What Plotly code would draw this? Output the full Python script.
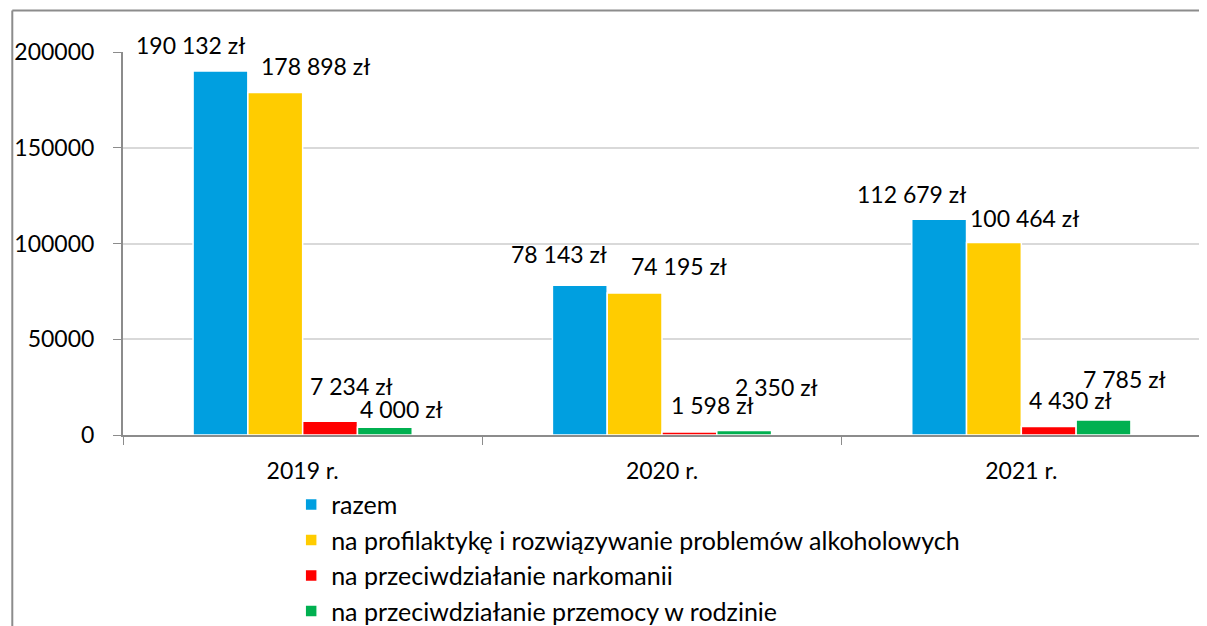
import plotly.graph_objects as go

# data
years = ["2019 r.", "2020 r.", "2021 r."]
razem = [190132, 78143, 112679]
alkohol = [178898, 74195, 100464]
narkomania = [7234, 1598, 4430]
przemoc = [4000, 2350, 7785]

series_names = [
    "razem",
    "na profilaktykę i rozwiązywanie problemów alkoholowych",
    "na przeciwdziałanie narkomanii",
    "na przeciwdziałanie przemocy w rodzinie",
]
series_values = [razem, alkohol, narkomania, przemoc]
colors = ["#009FE0", "#FFCC00", "#FF0000", "#00B050"]

# label nudges (px) per series, per year, like the hand-moved labels in the original
label_dx = [[-112, -103, -110], [13, 17, 3], [49, 50, 49], [99, 114, 103]]
label_dy = [[26, 31, 25], [26, 27, 25], [35, 27, 27], [18, 44, 41]]

FONT = "Lato"


def zl(v):
    return f"{v:,}".replace(",", " ") + " zł"


fig = go.Figure()
for name, vals, col in zip(series_names, series_values, colors):
    fig.add_trace(go.Bar(
        x=years, y=vals, name=name,
        marker=dict(color=col, line=dict(color="white", width=1.5)),
    ))

annotations = []
for i, vals in enumerate(series_values):
    for j, v in enumerate(vals):
        annotations.append(dict(
            x=years[j], y=v, xref="x", yref="y",
            text=zl(v), showarrow=False,
            xshift=label_dx[i][j], yshift=label_dy[i][j],
            font=dict(size=23, color="black", family=FONT),
        ))

# outer frame: only left and top edges are visible in the original
frame_x = -0.1027
frame_y = 1.1084
shapes = [
    dict(type="line", xref="paper", yref="paper", x0=frame_x, x1=frame_x,
         y0=-0.6, y1=frame_y, line=dict(color="#8C8C8C", width=2)),
    dict(type="line", xref="paper", yref="paper", x0=frame_x, x1=1.05,
         y0=frame_y, y1=frame_y, line=dict(color="#8C8C8C", width=2)),
]

# figure is a bit taller than the window: the legend sits right at the bottom as in the original
fig.update_layout(
    width=1199, height=650,
    margin=dict(l=112, r=6, t=44, b=223),
    paper_bgcolor="white", plot_bgcolor="white",
    barmode="group", bargap=0.39, bargroupgap=0,
    font=dict(family=FONT, size=23, color="black"),
    annotations=annotations,
    legend=dict(
        orientation="v", x=0.156, y=-0.122, xanchor="left", yanchor="top",
        font=dict(size=25), itemwidth=30, tracegroupgap=0,
    ),
    shapes=shapes,
)

fig.update_xaxes(
    showline=True, linecolor="#8C8C8C", linewidth=2,
    ticks="outside", tickson="boundaries", ticklen=8, tickcolor="#8C8C8C",
    ticklabelstandoff=14,
)
fig.update_yaxes(
    range=[0, 200000], dtick=50000, tickformat="d",
    showline=True, linecolor="#8C8C8C", linewidth=2,
    ticks="outside", ticklen=8, tickcolor="#8C8C8C",
    showgrid=True, gridcolor="#D9D9D9", gridwidth=1.5,
    zeroline=False, ticklabelstandoff=14,
)

fig.write_html("out.html")
